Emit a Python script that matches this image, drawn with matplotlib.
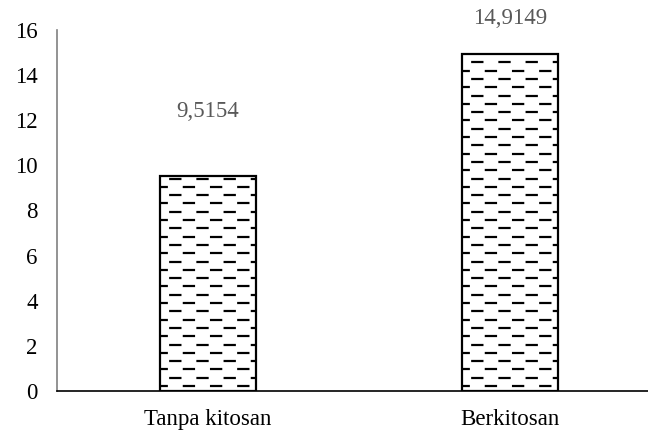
import numpy as np
import matplotlib
matplotlib.use("Agg")
import matplotlib.pyplot as plt

# data
categories = ["Tanpa kitosan", "Berkitosan"]
values = [9.5154, 14.9149]
labels = ["9,5154", "14,9149"]
label_offsets = [65, 36]  # px above bar top

plt.rcParams['font.family'] = ['Liberation Serif', 'DejaVu Serif']

fig = plt.figure(figsize=(6.48, 4.33), dpi=100)
W, H = 648, 433
ax = fig.add_axes([57 / W, 1 - 391 / H, 604 / W, 361 / H])

x = np.arange(len(categories))
bars = ax.bar(x, values, width=0.315, color="white", edgecolor="black",
              linewidth=1.6, zorder=3)

ax.set_xlim(-0.5, 1.5)
ax.set_ylim(0, 16)
ax.set_yticks(np.arange(0, 17, 2))
ax.set_xticks(x)
ax.set_xticklabels(categories)
ax.tick_params(axis="both", length=0, labelsize=16.5)
ax.tick_params(axis="y", pad=14)
ax.tick_params(axis="x", pad=13)

for s in ["top", "right"]:
    ax.spines[s].set_visible(False)
ax.spines["left"].set_color("#808080")
ax.spines["left"].set_linewidth(1.2)
ax.spines["bottom"].set_color("black")
ax.spines["bottom"].set_linewidth(1.2)

# dashed fill pattern, rows staggered by half a period
px_per_unit = 361 / 16
row_step = 8.3 / px_per_unit
period_px = 17.0
dash_px = 7.7
for b in bars:
    x0, x1 = b.get_x(), b.get_x() + b.get_width()
    y = row_step * 0.6
    i = 0
    while y < b.get_height():
        off = 2.0 if i % 2 == 0 else 2.0 + period_px / 2 * 0.72
        ln, = ax.plot([x0, x1], [y, y], color="black", lw=1.6,
                      dash_capstyle="butt", zorder=4)
        ln.set_linestyle((off, (dash_px * 0.72, (period_px - dash_px) * 0.72)))
        ln.set_clip_path(b)
        y += row_step
        i += 1

for b, lab, off in zip(bars, labels, label_offsets):
    ax.annotate(lab, (b.get_x() + b.get_width() / 2, b.get_height()),
                xytext=(0, off), textcoords="offset pixels",
                ha="center", va="center", fontsize=16.5, color="#595959")

fig.savefig("out.png", dpi=100)
